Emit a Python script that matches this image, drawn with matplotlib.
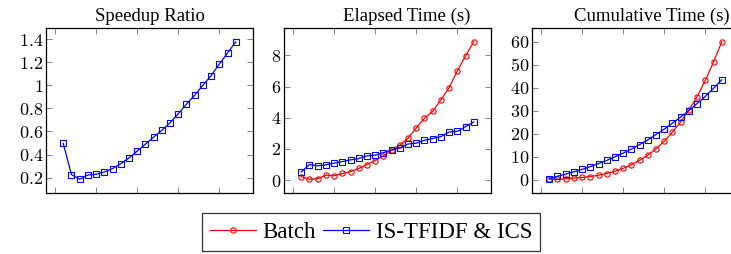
import numpy as np
import matplotlib
matplotlib.use('Agg')
import matplotlib.pyplot as plt
from matplotlib.ticker import FuncFormatter

plt.rcParams['font.family'] = ['Liberation Serif', 'DejaVu Serif']
plt.rcParams['mathtext.fontset'] = 'cm'

# data
steps = np.arange(1, 23)

speedup = [0.496, 0.226, 0.186, 0.223, 0.229, 0.249, 0.278, 0.321, 0.370, 0.430, 0.490,
           0.551, 0.609, 0.675, 0.753, 0.836, 0.914, 1.000, 1.083, 1.184, 1.279, 1.377]

batch_elapsed = [0.23, 0.06, 0.10, 0.32, 0.28, 0.43, 0.55, 0.75, 1.00, 1.26, 1.56,
                 1.92, 2.24, 2.69, 3.35, 3.97, 4.41, 5.14, 5.93, 7.00, 7.96, 8.87]
is_elapsed = [0.53, 1.00, 0.92, 0.98, 1.09, 1.19, 1.30, 1.39, 1.56, 1.60, 1.77,
              1.92, 2.07, 2.32, 2.37, 2.56, 2.67, 2.79, 3.09, 3.13, 3.43, 3.73]

batch_cum = [0.23, 0.29, 0.39, 0.71, 0.99, 1.42, 1.97, 2.72, 3.72, 4.98, 6.54,
             8.46, 10.7, 13.4, 16.75, 20.7, 25.1, 30.2, 36.1, 43.1, 51.1, 59.9]
is_cum = [0.53, 1.53, 2.45, 3.43, 4.52, 5.71, 7.01, 8.40, 9.96, 11.56, 13.33,
          15.25, 17.32, 19.64, 22.0, 24.57, 27.24, 30.03, 33.1, 36.2, 39.7, 43.4]

titles = ['Speedup Ratio', 'Elapsed Time (s)', 'Cumulative Time (s)']
yticks = [[0.2, 0.4, 0.6, 0.8, 1.0, 1.2, 1.4], [0, 2, 4, 6, 8], [0, 10, 20, 30, 40, 50, 60]]

W, H = 731, 254
fig = plt.figure(figsize=(W / 100, H / 100), dpi=100)

lefts = [46, 284, 532]
aw, top, bot = 207, 28, 193
axes = [fig.add_axes([l / W, 1 - bot / H, aw / W, (bot - top) / H]) for l in lefts]
# title centres (axes fraction) as seen in the original
title_x = [0.5, 0.594, 0.58]

red = dict(color='#ff0000', marker='o', ms=3.8, mfc='none', mew=0.8, lw=0.9)
blue = dict(color='#0000ff', marker='s', ms=3.8, mfc='none', mew=0.8, lw=0.9)

axes[0].plot(steps, speedup, **blue)
l1, = axes[1].plot(steps, batch_elapsed, label='Batch', **red)
l2, = axes[1].plot(steps, is_elapsed, label='IS-TFIDF & ICS', **blue)
axes[2].plot(steps, batch_cum, **red)
axes[2].plot(steps, is_cum, **blue)


def fmt(v, pos):
    s = ('%.1f' % v).rstrip('0').rstrip('.')
    return '$%s$' % s


for ax, t, tx, yt in zip(axes, titles, title_x, yticks):
    ax.margins(0.1)
    ax.set_title(t, fontsize=13.5, pad=5, x=tx)
    ax.set_xticks([0, 5, 10, 15, 20])
    ax.set_xticklabels([])
    ax.set_yticks(yt)
    ax.yaxis.set_major_formatter(FuncFormatter(fmt))
    ax.tick_params(direction='in', length=4, width=0.6, color='0.45',
                   top=True, right=True, labelsize=13, pad=2)
    for sp in ax.spines.values():
        sp.set_linewidth(0.9)

leg = fig.legend([l1, l2], ['Batch', 'IS-TFIDF & ICS'], ncol=2, loc='center',
                 bbox_to_anchor=(371 / W, 1 - 232 / H), fontsize=16.5,
                 frameon=True, fancybox=False, edgecolor='black',
                 handlelength=2.0, handletextpad=0.3, columnspacing=0.3,
                 borderpad=0.35)
leg.get_frame().set_linewidth(0.9)

fig.savefig('out.png', dpi=100)
